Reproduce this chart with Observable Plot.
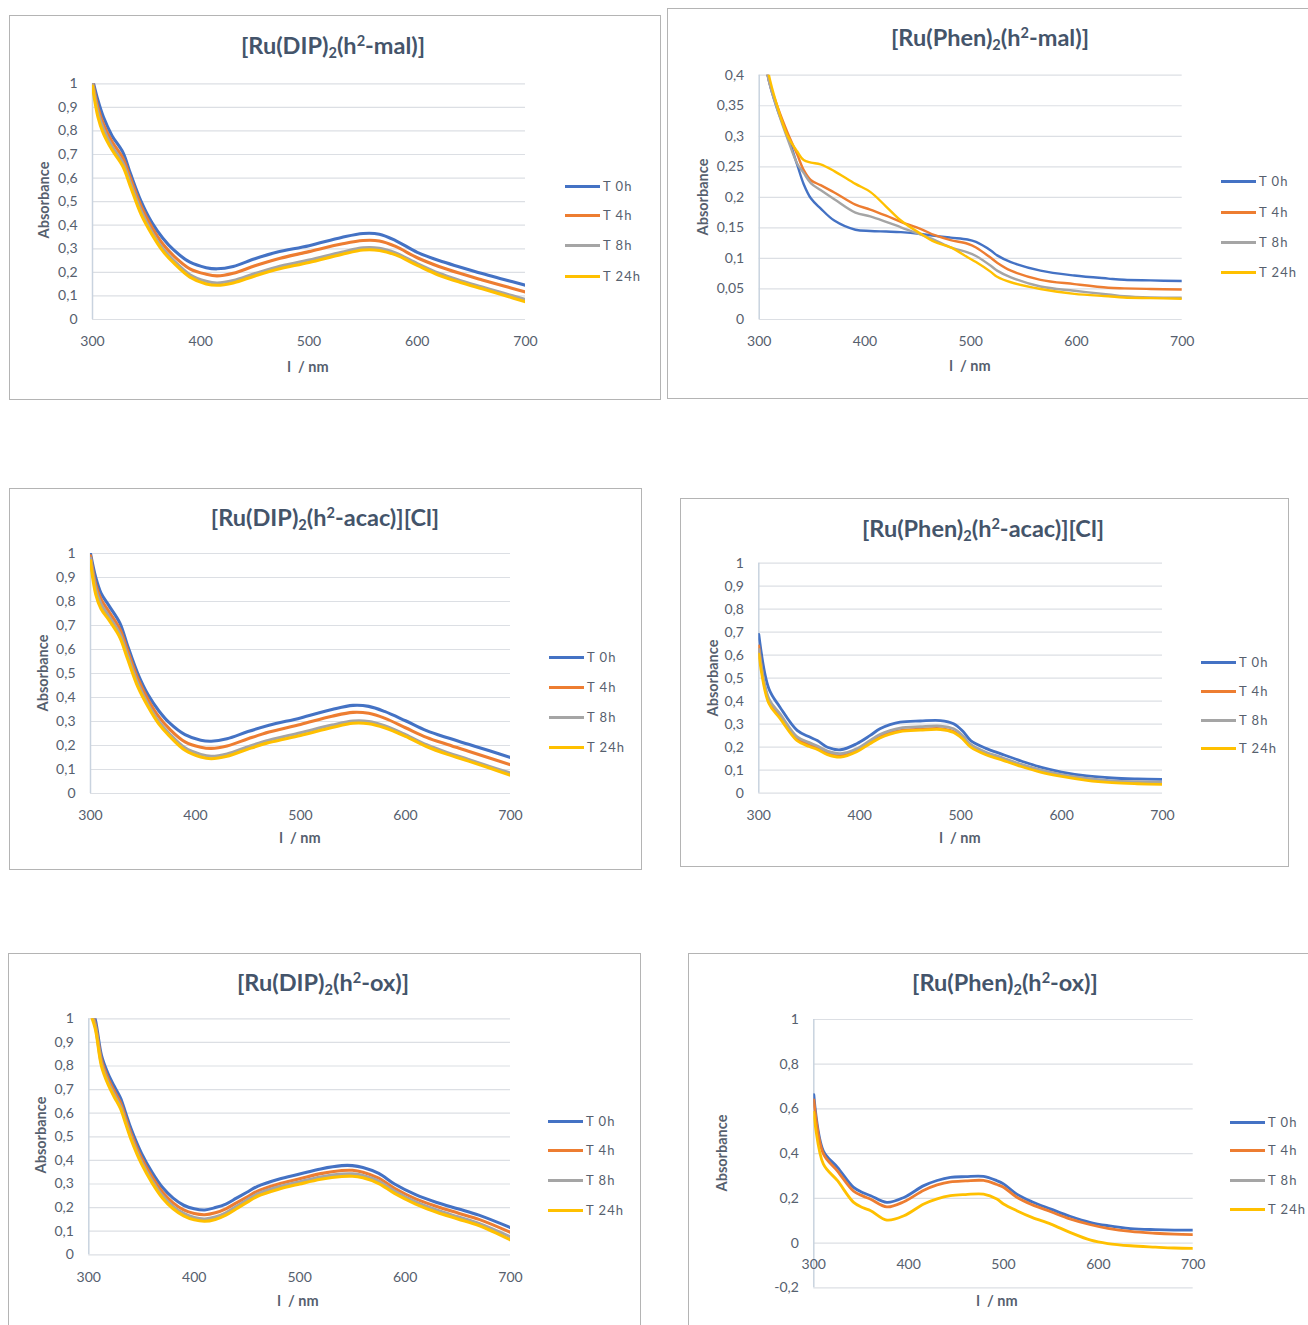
<!DOCTYPE html>
<html><head><meta charset="utf-8">
<script src="https://cdn.jsdelivr.net/npm/d3@7"></script>
<script src="https://cdn.jsdelivr.net/npm/@observablehq/plot@0.6"></script>
<style>
html,body{margin:0;padding:0;background:#fff;overflow:hidden;}
#page{position:relative;width:1308px;height:1325px;overflow:hidden;background:#fff;font-family:Lato,"Open Sans",sans-serif;}
.box{position:absolute;border:1px solid #b4b4b4;box-sizing:border-box;}
.svgwrap{position:absolute;}
.svgwrap svg{max-width:none !important;display:block;}
.title{position:absolute;transform:translate(-50%,-50%);font-weight:bold;font-size:23.5px;color:#44546a;white-space:nowrap;}
.title sub{font-size:0.62em;vertical-align:-0.3em;line-height:0;}
.title sup{font-size:0.62em;vertical-align:0.55em;line-height:0;}
.ylab{position:absolute;transform:translate(-50%,-50%) rotate(-90deg);font-weight:bold;font-size:14.5px;color:#56606e;white-space:nowrap;}
.xlab{position:absolute;transform:translate(-50%,-50%);font-weight:bold;font-size:14.5px;color:#56606e;white-space:pre;}
.lg-line{position:absolute;width:35px;height:3px;}
.lg-text{position:absolute;transform:translateY(-50%);font-size:13px;color:#56606e;letter-spacing:1px;white-space:nowrap;}
</style></head>
<body><div id="page"></div>
<script>
// ---- common ----
const SERIES = ["T 0h", "T 4h", "T 8h", "T 24h"];
const COLORS = ["#4472C4", "#ED7D31", "#A5A5A5", "#FFC000"];
const XTICKS = [300, 400, 500, 600, 700];
const YTICKS_1 = [0, 0.1, 0.2, 0.3, 0.4, 0.5, 0.6, 0.7, 0.8, 0.9, 1];
const YTICKS_04 = [0, 0.05, 0.1, 0.15, 0.2, 0.25, 0.3, 0.35, 0.4];
const YTICKS_OX = [-0.2, 0, 0.2, 0.4, 0.6, 0.8, 1];

// ---- [Ru(DIP)2(h2-mal)] ----
const dipMal_wl = [300,305,310,318,328,335,345,355,365,375,390,405,415,430,450,470,500,530,550,565,580,600,620,640,660,680,700];
const dipMal_T0  = [1.02,0.93,0.86,0.78,0.71,0.62,0.50,0.41,0.345,0.295,0.243,0.22,0.215,0.225,0.258,0.285,0.313,0.348,0.365,0.362,0.335,0.285,0.25,0.222,0.195,0.17,0.145];
const dipMal_T4  = [1.01,0.90,0.83,0.755,0.685,0.60,0.48,0.39,0.32,0.27,0.215,0.192,0.185,0.196,0.228,0.256,0.288,0.32,0.335,0.333,0.31,0.262,0.225,0.195,0.168,0.142,0.117];
const dipMal_T8  = [1.0,0.88,0.81,0.735,0.665,0.58,0.46,0.37,0.30,0.25,0.19,0.162,0.155,0.165,0.195,0.222,0.252,0.285,0.304,0.302,0.282,0.237,0.196,0.165,0.138,0.111,0.085];
const dipMal_T24 = [0.99,0.86,0.79,0.72,0.65,0.565,0.445,0.36,0.29,0.24,0.18,0.151,0.145,0.155,0.185,0.212,0.242,0.276,0.295,0.293,0.274,0.23,0.188,0.157,0.13,0.103,0.075];

// ---- [Ru(Phen)2(h2-mal)] ----
const phenMal_wl = [300,308,317,327,336,342,349,358,371,391,405,420,434,453,466,481,497,505,519,525,538,566,598,630,645,670,700];
const phenMal_T0  = [0.52,0.40,0.345,0.30,0.253,0.222,0.198,0.182,0.162,0.147,0.145,0.144,0.143,0.140,0.137,0.134,0.131,0.127,0.113,0.105,0.094,0.080,0.072,0.067,0.065,0.064,0.063];
const phenMal_T4  = [0.52,0.40,0.35,0.305,0.27,0.245,0.228,0.22,0.208,0.188,0.180,0.170,0.160,0.148,0.138,0.130,0.124,0.118,0.101,0.093,0.080,0.065,0.058,0.052,0.051,0.050,0.049];
const phenMal_T8  = [0.52,0.40,0.345,0.295,0.255,0.24,0.223,0.212,0.197,0.175,0.169,0.160,0.151,0.139,0.130,0.118,0.110,0.104,0.088,0.080,0.069,0.054,0.047,0.041,0.038,0.036,0.0355];
const phenMal_T24 = [0.54,0.41,0.35,0.30,0.275,0.261,0.257,0.254,0.243,0.222,0.209,0.185,0.162,0.140,0.127,0.118,0.102,0.094,0.078,0.070,0.061,0.050,0.042,0.038,0.036,0.035,0.034];

// ---- [Ru(DIP)2(h2-acac)][Cl] ----
const dipAcac_wl = [300,305,310,318,328,335,345,355,365,375,390,405,415,430,450,470,500,530,550,565,580,600,620,640,660,680,700];
const dipAcac_T0  = [1.0,0.90,0.835,0.78,0.71,0.62,0.50,0.41,0.345,0.295,0.245,0.222,0.218,0.228,0.258,0.284,0.315,0.35,0.367,0.363,0.342,0.303,0.262,0.232,0.205,0.178,0.15];
const dipAcac_T4  = [0.99,0.87,0.81,0.755,0.685,0.60,0.48,0.39,0.32,0.27,0.215,0.193,0.188,0.198,0.228,0.256,0.288,0.322,0.338,0.334,0.314,0.274,0.234,0.204,0.176,0.148,0.12];
const dipAcac_T8  = [0.98,0.85,0.79,0.735,0.665,0.58,0.46,0.37,0.30,0.25,0.19,0.163,0.155,0.165,0.195,0.222,0.253,0.285,0.302,0.30,0.282,0.245,0.203,0.17,0.142,0.113,0.085];
const dipAcac_T24 = [0.97,0.83,0.77,0.72,0.65,0.565,0.445,0.36,0.29,0.24,0.18,0.152,0.145,0.155,0.185,0.212,0.242,0.275,0.293,0.291,0.274,0.238,0.196,0.163,0.135,0.106,0.076];

// ---- [Ru(Phen)2(h2-acac)][Cl] ----
const phenAcac_wl = [300,310,321,338,350,358,368,381,397,410,420,430,440,460,480,493,502,510,525,540,560,580,600,625,650,675,700];
const phenAcac_T0  = [0.69,0.454,0.374,0.273,0.245,0.229,0.20,0.189,0.215,0.25,0.28,0.298,0.309,0.314,0.316,0.302,0.27,0.229,0.195,0.171,0.14,0.112,0.092,0.075,0.066,0.062,0.06];
const phenAcac_T4  = [0.64,0.40,0.335,0.235,0.21,0.198,0.175,0.163,0.185,0.22,0.245,0.262,0.272,0.278,0.281,0.268,0.24,0.205,0.172,0.15,0.12,0.095,0.077,0.06,0.05,0.045,0.043];
const phenAcac_T8  = [0.625,0.41,0.345,0.245,0.22,0.205,0.183,0.172,0.193,0.228,0.255,0.272,0.283,0.289,0.292,0.28,0.25,0.212,0.178,0.156,0.125,0.1,0.081,0.064,0.054,0.05,0.048];
const phenAcac_T24 = [0.605,0.39,0.325,0.228,0.203,0.19,0.168,0.157,0.18,0.215,0.24,0.257,0.268,0.274,0.277,0.264,0.236,0.2,0.167,0.146,0.116,0.091,0.073,0.056,0.046,0.041,0.038];

// ---- [Ru(DIP)2(h2-ox)] ----
const dipOx_wl = [300,306,312,318,324,330,335,340,350,360,370,380,390,400,410,420,430,440,450,460,480,500,520,540,550,560,575,590,610,630,650,670,700];
const dipOx_T0  = [1.08,1.0,0.845,0.77,0.715,0.665,0.60,0.535,0.43,0.35,0.285,0.24,0.21,0.195,0.19,0.20,0.215,0.24,0.265,0.29,0.32,0.342,0.364,0.378,0.378,0.37,0.345,0.30,0.255,0.222,0.195,0.168,0.115];
const dipOx_T4  = [1.06,0.98,0.825,0.75,0.695,0.645,0.58,0.515,0.41,0.33,0.265,0.22,0.19,0.175,0.17,0.178,0.195,0.22,0.245,0.27,0.30,0.322,0.344,0.357,0.358,0.35,0.325,0.282,0.237,0.205,0.177,0.15,0.095];
const dipOx_T8  = [1.05,0.97,0.81,0.735,0.68,0.63,0.565,0.50,0.395,0.315,0.25,0.205,0.175,0.158,0.152,0.16,0.178,0.205,0.232,0.258,0.288,0.31,0.33,0.342,0.343,0.336,0.312,0.27,0.224,0.19,0.161,0.133,0.076];
const dipOx_T24 = [1.04,0.96,0.80,0.725,0.67,0.62,0.555,0.49,0.385,0.305,0.24,0.195,0.165,0.148,0.142,0.15,0.168,0.195,0.222,0.248,0.278,0.30,0.32,0.332,0.333,0.326,0.302,0.26,0.215,0.18,0.152,0.124,0.063];

// ---- [Ru(Phen)2(h2-ox)] ----
const phenOx_wl = [300,310,325,342,352,360,377,395,416,430,444,460,479,493,500,514,530,550,570,592,610,634,660,680,700];
const phenOx_T0  = [0.664,0.413,0.339,0.249,0.225,0.212,0.182,0.204,0.257,0.28,0.294,0.297,0.298,0.279,0.265,0.219,0.185,0.152,0.12,0.092,0.078,0.065,0.06,0.058,0.058];
const phenOx_T4  = [0.64,0.40,0.322,0.232,0.21,0.196,0.162,0.185,0.236,0.26,0.274,0.278,0.28,0.262,0.25,0.205,0.172,0.14,0.108,0.082,0.066,0.052,0.044,0.04,0.038];
const phenOx_T8  = [];
const phenOx_T24 = [0.585,0.354,0.279,0.182,0.158,0.145,0.103,0.122,0.175,0.198,0.212,0.217,0.219,0.197,0.175,0.145,0.115,0.085,0.048,0.013,-0.002,-0.012,-0.018,-0.022,-0.024];

const panels = [
  {title:'[Ru(DIP)<sub>2</sub>(h<sup>2</sup>-mal)]', wl:dipMal_wl, vals:[dipMal_T0,dipMal_T4,dipMal_T8,dipMal_T24],
   ydom:[0,1], yticks:YTICKS_1, sw:3.1,
   box:{l:9,t:15,w:652,h:385}, plot:{l:92,r:525,t:83.3,b:319},
   tt:{x:333,y:45}, yl:{x:43,y:200}, xl:{x:308,y:366}, lg:{x:565,ys:[186,215,245,276]}},
  {title:'[Ru(Phen)<sub>2</sub>(h<sup>2</sup>-mal)]', wl:phenMal_wl, vals:[phenMal_T0,phenMal_T4,phenMal_T8,phenMal_T24],
   ydom:[0,0.4], yticks:YTICKS_04, sw:2.4,
   box:{l:667,t:8,w:660,h:391}, plot:{l:758.7,r:1181.7,t:74.7,b:319},
   tt:{x:990,y:37}, yl:{x:702,y:197}, xl:{x:970,y:365}, lg:{x:1221,ys:[181,212,242,272]}},
  {title:'[Ru(DIP)<sub>2</sub>(h<sup>2</sup>-acac)][Cl]', wl:dipAcac_wl, vals:[dipAcac_T0,dipAcac_T4,dipAcac_T8,dipAcac_T24],
   ydom:[0,1], yticks:YTICKS_1, sw:3.1,
   box:{l:9,t:488,w:633,h:382}, plot:{l:90,r:510,t:553,b:793},
   tt:{x:325,y:517}, yl:{x:42,y:673}, xl:{x:300,y:837}, lg:{x:549,ys:[657,687,717,747]}},
  {title:'[Ru(Phen)<sub>2</sub>(h<sup>2</sup>-acac)][Cl]', wl:phenAcac_wl, vals:[phenAcac_T0,phenAcac_T4,phenAcac_T8,phenAcac_T24],
   ydom:[0,1], yticks:YTICKS_1, sw:2.8,
   box:{l:680,t:498,w:609,h:369}, plot:{l:758.3,r:1162,t:562.7,b:792.7},
   tt:{x:983,y:528}, yl:{x:712,y:678}, xl:{x:960,y:837}, lg:{x:1201,ys:[662,691,720,748]}},
  {title:'[Ru(DIP)<sub>2</sub>(h<sup>2</sup>-ox)]', wl:dipOx_wl, vals:[dipOx_T0,dipOx_T4,dipOx_T8,dipOx_T24],
   ydom:[0,1], yticks:YTICKS_1, sw:3.1,
   box:{l:8,t:953,w:633,h:400}, plot:{l:88.3,r:510,t:1018.3,b:1254.3},
   tt:{x:323,y:982}, yl:{x:40,y:1135}, xl:{x:298,y:1300}, lg:{x:548,ys:[1121,1150,1180,1210]}},
  {title:'[Ru(Phen)<sub>2</sub>(h<sup>2</sup>-ox)]', wl:phenOx_wl, vals:[phenOx_T0,phenOx_T4,phenOx_T8,phenOx_T24],
   ydom:[-0.2,1], yticks:YTICKS_OX, sw:2.8, xAtZero:true,
   box:{l:688,t:953,w:640,h:400}, plot:{l:813.3,r:1192.7,t:1019,b:1287.3},
   tt:{x:1005,y:982}, yl:{x:721,y:1153}, xl:{x:997,y:1300}, lg:{x:1230,ys:[1122,1150,1180,1209]}}
];

const fmt = d => String(d).replace(".", ",");
const page = document.getElementById("page");
const TXT = "#56606e";

function addDiv(cls, x, y, html) {
  const d = document.createElement("div");
  d.className = cls;
  d.style.left = x + "px";
  d.style.top = y + "px";
  d.innerHTML = html;
  page.appendChild(d);
  return d;
}

panels.forEach(p => {
  const box = document.createElement("div");
  box.className = "box";
  Object.assign(box.style, {left: p.box.l + "px", top: p.box.t + "px", width: p.box.w + "px", height: p.box.h + "px"});
  page.appendChild(box);

  const rows = [];
  p.vals.forEach((vals, k) => vals.forEach((v, i) => rows.push({wl: p.wl[i], a: v, s: SERIES[k]})));

  const marks = [
    Plot.gridY(p.yticks, {stroke: "#dcdfe4", strokeOpacity: 1, strokeWidth: 1.2}),
    Plot.ruleX([300], {stroke: "#c9d3df", strokeWidth: 1.5}),
    Plot.axisY({ticks: p.yticks, tickSize: 0, tickPadding: 15, tickFormat: fmt, label: null}),
    p.xAtZero
      ? Plot.text(XTICKS, {x: d => d, y: 0, dy: 21, text: d => String(d), fill: "currentColor"})
      : Plot.axisX({ticks: XTICKS, tickSize: 0, tickPadding: 17, label: null}),
    Plot.line(rows, {x: "wl", y: "a", z: "s", stroke: "s", strokeWidth: p.sw, curve: "catmull-rom", clip: true})
  ];

  const chart = Plot.plot({
    width: p.box.w,
    height: p.box.h,
    marginLeft: p.plot.l - p.box.l,
    marginRight: p.box.l + p.box.w - p.plot.r,
    marginTop: p.plot.t - p.box.t,
    marginBottom: p.box.t + p.box.h - p.plot.b,
    x: {domain: [300, 700], axis: null},
    y: {domain: p.ydom, axis: null},
    color: {domain: SERIES, range: COLORS},
    style: {fontFamily: "Lato, 'Open Sans', sans-serif", fontSize: "14px", color: TXT, background: "transparent", overflow: "visible"},
    marks
  });
  chart.style.maxWidth = "none";
  const wrap = document.createElement("div");
  wrap.className = "svgwrap";
  wrap.style.left = p.box.l + "px";
  wrap.style.top = p.box.t + "px";
  wrap.style.width = p.box.w + "px";
  wrap.style.height = p.box.h + "px";
  wrap.appendChild(chart);
  page.appendChild(wrap);

  addDiv("title", p.tt.x, p.tt.y, p.title);
  addDiv("ylab", p.yl.x, p.yl.y, "Absorbance");
  addDiv("xlab", p.xl.x, p.xl.y, "l  / nm");
  SERIES.forEach((s, k) => {
    const ln = addDiv("lg-line", p.lg.x, p.lg.ys[k] - 1.5, "");
    ln.style.background = COLORS[k];
    addDiv("lg-text", p.lg.x + 38, p.lg.ys[k], s);
  });
});
</script>
</body></html>
